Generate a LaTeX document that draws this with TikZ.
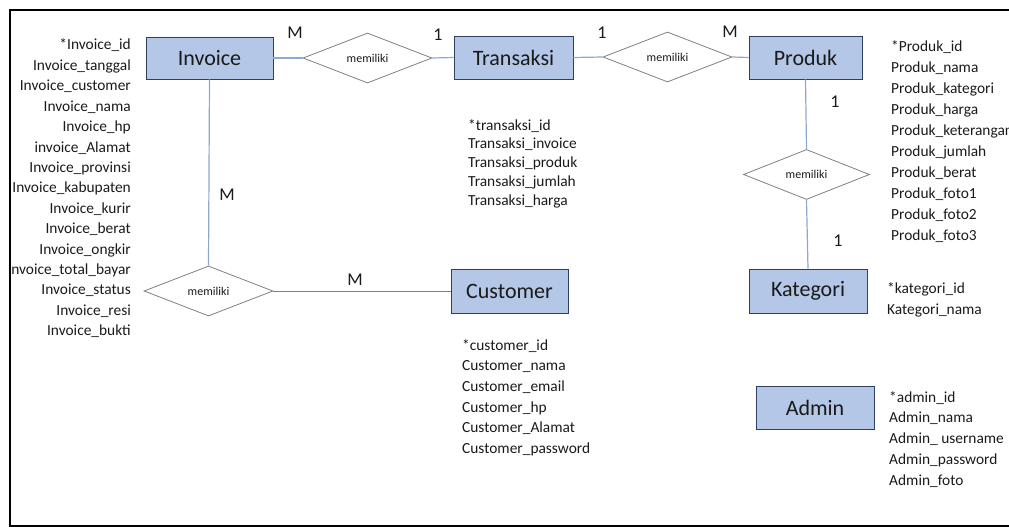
\documentclass[tikz,border=0pt]{standalone}
\usepackage{fontspec}
\setmainfont{Carlito}
\usetikzlibrary{shapes.geometric}

\definecolor{boxfill}{HTML}{B4C7E7}
\definecolor{boxline}{HTML}{2F3F5F}
\definecolor{linkline}{HTML}{8EA9CB}
\definecolor{relline}{HTML}{808080}
\definecolor{ink}{HTML}{1A1A1A}

\tikzset{
  entity/.style={draw=boxline, fill=boxfill, line width=0.9pt, inner sep=0pt,
    text=ink, font=\fontsize{22}{26}\selectfont},
  relation/.style={diamond, draw=relline, fill=white, line width=0.8pt, inner sep=0pt,
    text=ink, font=\fontsize{12}{14}\selectfont},
  link/.style={draw=linkline, line width=1.2pt},
  graylink/.style={draw=relline, line width=0.9pt},
  card/.style={text=ink, inner sep=0pt, font=\fontsize{18}{20}\selectfont},
  attr/.style={text=ink, inner sep=0pt, font=\fontsize{15.4}{18}\selectfont},
}

\begin{document}
\begin{tikzpicture}[x=1pt, y=-1pt]
\useasboundingbox (0,0) rectangle (1009,527);

% entities
\node[entity, minimum width=127pt, minimum height=42pt] (invoice)   at (209.5,58)   {Invoice};
\node[entity, minimum width=119pt, minimum height=43pt] (transaksi) at (513.5,57.5) {Transaksi};
\node[entity, minimum width=113pt, minimum height=43pt] (produk)    at (805.5,57.5) {Produk};
\node[entity, minimum width=118pt, minimum height=44pt] (kategori)  at (808,291)    {Kategori};
\node[entity, minimum width=117pt, minimum height=44pt] (customer)  at (509.5,291)  {Customer};
\node[entity, minimum width=118pt, minimum height=43pt] (admin)     at (815,407.5)  {Admin};

% relationships
\node[relation, minimum width=129pt, minimum height=42pt] (r1) at (367.5,58)    {memiliki};
\node[relation, minimum width=129pt, minimum height=42pt] (r2) at (667.5,57)    {memiliki};
\node[relation, minimum width=126pt, minimum height=42pt] (r3) at (806.5,174.5) {memiliki};
\node[relation, minimum width=129pt, minimum height=44pt] (r4) at (208.5,291)   {memiliki};

% connectors
\draw[link] (invoice.east) -- (r1.west);
\draw[link] (r1.east) -- (transaksi.west);
\draw[link] (transaksi.east) -- (r2.west);
\draw[link] (r2.east) -- (produk.west);
\draw[link] (produk.south) -- (r3.north);
\draw[link] (r3.south) -- (kategori.north);
\draw[link] (invoice.south) -- (r4.north);
\draw[graylink] (r4.east) -- (customer.west);

% cardinalities
\node[card] (c1) at (295,33)  {M};
\node[card] (c2) at (438,35)  {1};
\node[card] (c3) at (602,33)  {1};
\node[card] (c4) at (730,32)  {M};
\node[card] (c5) at (835,102) {1};
\node[card] (c6) at (838,241) {1};
\node[card] (c7) at (227,195) {M};
\node[card] (c8) at (355,280) {M};

% attributes
\begin{scope}
\clip (11,0) rectangle (1009,527);
\foreach \t [count=\i] in {*Invoice\_id, Invoice\_tanggal, Invoice\_customer,
    Invoice\_nama, Invoice\_hp, invoice\_Alamat, Invoice\_provinsi,
    Invoice\_kabupaten, Invoice\_kurir, Invoice\_berat, Invoice\_ongkir,
    Invoice\_total\_bayar, Invoice\_status, Invoice\_resi, Invoice\_bukti}
  \node[attr, anchor=base east] (inv\i) at (131,{50+20.4*(\i-1)}) {\t};
\end{scope}

\foreach \t [count=\i] in {*transaksi\_id, Transaksi\_invoice, Transaksi\_produk,
    Transaksi\_jumlah, Transaksi\_harga}
  \node[attr, anchor=base west] (tra\i) at (468,{130+18.75*(\i-1)}) {\t};

\foreach \t [count=\i] in {*Produk\_id, Produk\_nama, Produk\_kategori, Produk\_harga,
    Produk\_keterangan, Produk\_jumlah, Produk\_berat, Produk\_foto1,
    Produk\_foto2, Produk\_foto3}
  \node[attr, anchor=base west] (pro\i) at (891,{52+20.9*(\i-1)}) {\t};

\foreach \t [count=\i] in {*customer\_id, Customer\_nama, Customer\_email,
    Customer\_hp, Customer\_Alamat, Customer\_password}
  \node[attr, anchor=base west] (cus\i) at (462,{350+20.7*(\i-1)}) {\t};

\foreach \t [count=\i] in {*kategori\_id, Kategori\_nama}
  \node[attr, anchor=base west] (kat\i) at (887,{293+21*(\i-1)}) {\t};

\foreach \t [count=\i] in {*admin\_id, Admin\_nama, Admin\_ username,
    Admin\_password, Admin\_foto}
  \node[attr, anchor=base west] (adm\i) at (889,{402+20.8*(\i-1)}) {\t};

% frame
\draw[black, line width=2pt] (1010,10) -- (10,10) -- (10,526) -- (1010,526);
\end{tikzpicture}
\end{document}
